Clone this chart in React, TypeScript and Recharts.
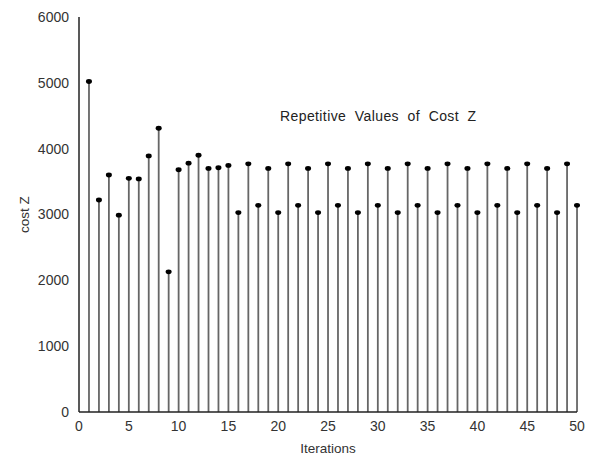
import React from 'react';
import { ComposedChart, Bar, Scatter, XAxis, YAxis, Label } from 'recharts';

// iteration number and the cost Z found at that iteration
const iterations = [
  1, 2, 3, 4, 5, 6, 7, 8, 9, 10,
  11, 12, 13, 14, 15, 16, 17, 18, 19, 20,
  21, 22, 23, 24, 25, 26, 27, 28, 29, 30,
  31, 32, 33, 34, 35, 36, 37, 38, 39, 40,
  41, 42, 43, 44, 45, 46, 47, 48, 49, 50,
];
const costZ = [
  5020, 3220, 3600, 2990, 3550, 3540, 3890, 4310, 2130, 3680,
  3780, 3900, 3700, 3710, 3745, 3030, 3770, 3140, 3700, 3030,
  3770, 3140, 3700, 3030, 3770, 3140, 3700, 3030, 3770, 3140,
  3700, 3030, 3770, 3140, 3700, 3030, 3770, 3140, 3700, 3030,
  3770, 3140, 3700, 3030, 3770, 3140, 3700, 3030, 3770, 3140,
];
const xTicks = [0, 5, 10, 15, 20, 25, 30, 35, 40, 45, 50];
const yTicks = [0, 1000, 2000, 3000, 4000, 5000, 6000];

const data = iterations.map((it, i) => ({ iter: it, cost: costZ[i] }));

const font = 'Arial, "Liberation Sans", sans-serif';

const Stem = (props: any) => {
  const { x, y, width, height } = props;
  const cx = x + width / 2;
  return <line x1={cx} y1={y} x2={cx} y2={y + height} stroke="#666" strokeWidth={1.8} />;
};

const Dot = (props: any) => {
  const { cx, cy } = props;
  return <ellipse cx={cx} cy={cy} rx={3} ry={2.4} fill="#000" />;
};

export default function App() {
  return (
    <div style={{ position: 'fixed', left: 0, top: 0, width: 602, height: 457, background: '#fff' }}>
      <ComposedChart width={602} height={457} data={data} margin={{ top: 17, right: 25, left: 0, bottom: 0 }}>
        <XAxis
          dataKey="iter"
          type="number"
          domain={[0, 50]}
          ticks={xTicks}
          height={45}
          tickLine={false}
          axisLine={{ stroke: '#222', strokeWidth: 1.5 }}
          tick={{ fill: '#333', fontSize: 14, fontFamily: font }}
          tickMargin={3}
        >
          <Label value="Iterations" position="insideBottom" offset={4} style={{ fill: '#333', fontSize: 13.5, fontFamily: font }} />
        </XAxis>
        <YAxis
          type="number"
          domain={[0, 6000]}
          ticks={yTicks}
          width={79}
          tickLine={false}
          axisLine={{ stroke: '#222', strokeWidth: 1.5 }}
          tick={{ fill: '#333', fontSize: 14, fontFamily: font }}
          tickMargin={4}
        >
          <Label value="cost Z" angle={-90} position="insideLeft" offset={24} style={{ fill: '#333', fontSize: 13.5, fontFamily: font, textAnchor: 'middle' }} />
        </YAxis>
        <Bar dataKey="cost" barSize={2} shape={<Stem />} isAnimationActive={false} />
        <Scatter dataKey="cost" shape={<Dot />} isAnimationActive={false} />
      </ComposedChart>
      <div
        style={{
          position: 'absolute',
          left: 280,
          top: 108,
          fontFamily: font,
          fontSize: 14,
          color: '#222',
          whiteSpace: 'pre',
          letterSpacing: 0.4,
        }}
      >
        {'Repetitive  Values  of  Cost  Z'}
      </div>
    </div>
  );
}
